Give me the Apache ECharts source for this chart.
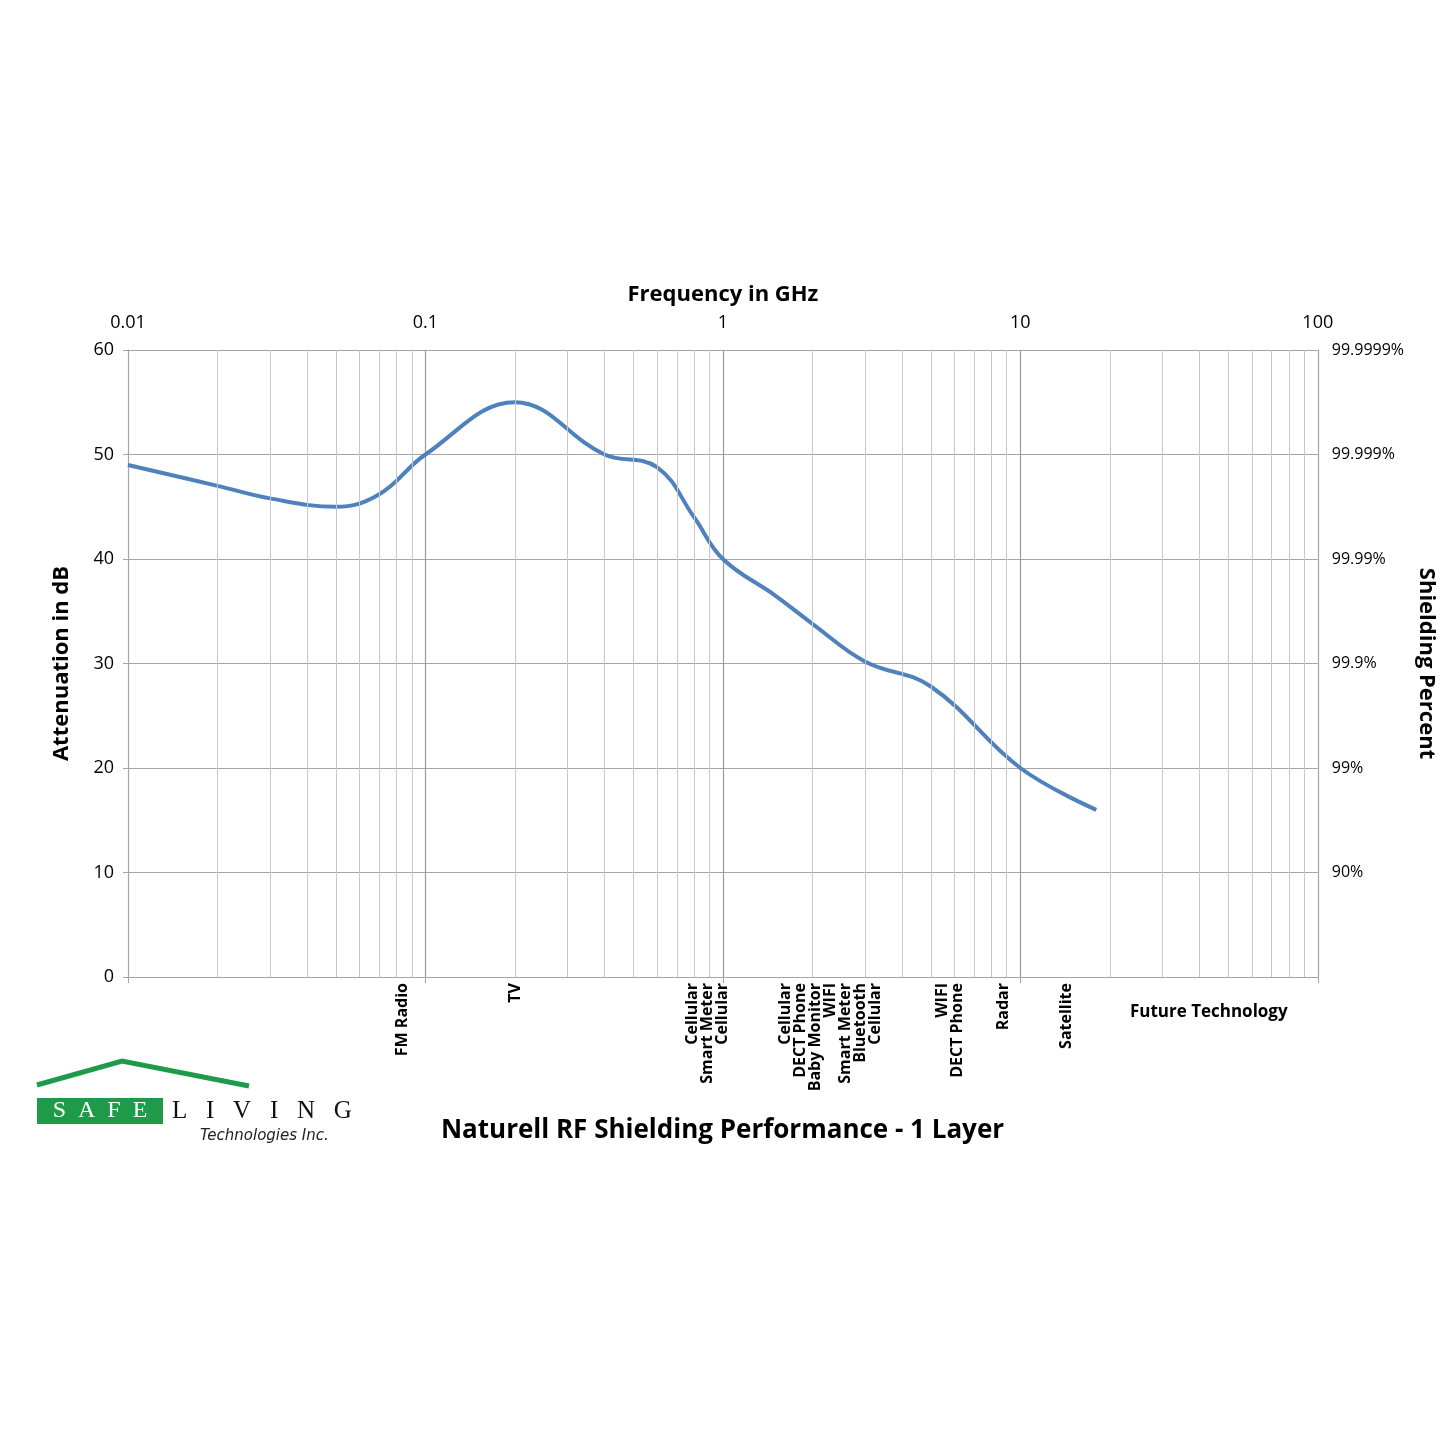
<!DOCTYPE html>
<html>
<head>
<meta charset="utf-8">
<script src="https://cdn.jsdelivr.net/npm/echarts@6/dist/echarts.min.js"></script>
<style>html,body{margin:0;padding:0;background:#fff}#main{width:1445px;height:1445px}</style>
</head>
<body>
<div id="main"></div>
<script>
// attenuation curve
const freqs = [0.01, 0.02, 0.03, 0.05, 0.07, 0.1, 0.2, 0.4, 0.6, 0.8, 1, 1.5, 2, 3, 5, 10, 18];
const dbValues = [49, 47, 45.8, 45, 46.2, 50, 55, 50, 48.8, 44, 40, 36.5, 33.8, 30.2, 27.8, 20, 16];

const pctLabels = {0: '', 10: '90%', 20: '99%', 30: '99.9%', 40: '99.99%', 50: '99.999%', 60: '99.9999%'};

// application labels under the axis
const appFreqs = [0.0836, 0.2, 0.89, 2.3, 5.8, 8.8, 14.3];
const appNames = [
    'FM Radio',
    'TV',
    'Cellular\nSmart Meter\nCellular',
    'Cellular\nDECT Phone\nBaby Monitor\nWIFI\nSmart Meter\nBluetooth\nCellular',
    'WIFI\nDECT Phone',
    'Radar',
    'Satellite'
];

const minorFreqs = [];
[0.01, 0.1, 1, 10].forEach(d => {
    for (let k = 2; k <= 9; k++) minorFreqs.push(+(d * k).toPrecision(3));
});

const chart = echarts.init(document.getElementById('main'));
const gridColor = '#a6a6a6';
const font = 'Open Sans';

chart.setOption({
    animation: false,
    textStyle: {fontFamily: font},
    grid: {left: 128, right: 124, top: 350, bottom: 468},
    xAxis: [
        {
            type: 'log', min: 0.01, max: 100, logBase: 10, position: 'bottom',
            axisLine: {lineStyle: {color: gridColor}},
            axisTick: {show: true, length: 6, lineStyle: {color: gridColor}},
            axisLabel: {show: false},
            splitLine: {show: true, lineStyle: {color: '#999', width: 1.2}}
        },
        {
            type: 'log', min: 0.01, max: 100, logBase: 10, position: 'top',
            name: 'Frequency in GHz', nameLocation: 'middle', nameGap: 44,
            nameTextStyle: {fontSize: 22, fontWeight: 'bold', color: '#000'},
            axisLine: {lineStyle: {color: gridColor}},
            axisTick: {show: false},
            axisLabel: {fontSize: 18, color: '#000', margin: 18,
                formatter: v => String(+v.toPrecision(3))},
            splitLine: {show: false}
        }
    ],
    yAxis: [
        {
            type: 'value', min: 0, max: 60, interval: 10,
            name: 'Attenuation in dB', nameLocation: 'middle', nameGap: 55,
            nameTextStyle: {fontSize: 22, fontWeight: 'bold', color: '#000'},
            axisLine: {show: true, lineStyle: {color: gridColor}},
            axisTick: {show: true, lineStyle: {color: gridColor}},
            axisLabel: {fontSize: 18, color: '#000', margin: 14},
            splitLine: {lineStyle: {color: gridColor, width: 1.2}}
        },
        {
            type: 'value', min: 0, max: 60, interval: 10, position: 'right',
            name: 'Shielding Percent', nameLocation: 'middle', nameGap: 88, nameRotate: -90,
            nameTextStyle: {fontSize: 22, fontWeight: 'bold', color: '#000'},
            axisLine: {show: true, lineStyle: {color: gridColor}},
            axisTick: {show: false},
            axisLabel: {fontSize: 16, color: '#000', margin: 14, formatter: v => pctLabels[v]},
            splitLine: {show: false}
        }
    ],
    series: [
        {
            type: 'line', xAxisIndex: 0, yAxisIndex: 0,
            data: [],
            markLine: {
                silent: true, symbol: 'none', label: {show: false},
                lineStyle: {color: '#c8c8c8', width: 1, type: 'solid'},
                data: minorFreqs.map(f => ({xAxis: f}))
            }
        },
        {
            type: 'line', xAxisIndex: 0, yAxisIndex: 0,
            smooth: 0.4, showSymbol: false,
            lineStyle: {color: '#4f81bd', width: 4},
            data: freqs.map((f, i) => [f, dbValues[i]])
        }
    ]
});

const graphics = appFreqs.map((f, i) => {
    const p = chart.convertToPixel({xAxisIndex: 0, yAxisIndex: 0}, [f, 0]);
    return {
        type: 'text', x: p[0], y: p[1] + 6, rotation: Math.PI / 2,
        style: {text: appNames[i], fill: '#000', fontSize: 16, fontWeight: 'bold',
            fontFamily: font, align: 'right', verticalAlign: 'middle', lineHeight: 15}
    };
});
const fut = chart.convertToPixel({xAxisIndex: 0, yAxisIndex: 0}, [43, 0]);
graphics.push(
    {type: 'text', x: fut[0], y: fut[1] + 35,
        style: {text: 'Future Technology', fill: '#000', fontSize: 17, fontWeight: 'bold',
            fontFamily: font, align: 'center', verticalAlign: 'middle'}},
    {type: 'text', left: 'center', top: 1118,
        style: {text: 'Naturell RF Shielding Performance - 1 Layer', fill: '#000', fontSize: 26,
            fontWeight: 'bold', fontFamily: font}},
    // logo
    {type: 'polyline', shape: {points: [[37, 1085], [122, 1061], [249, 1086]]},
        style: {stroke: '#1f9a48', lineWidth: 5, fill: null}},
    {type: 'rect', shape: {x: 37, y: 1098, width: 126, height: 26}, style: {fill: '#1f9a48'}},
    {type: 'text', x: 100, y: 1111,
        style: {text: 'S  A  F  E', fill: '#fff', fontSize: 24, fontFamily: 'Liberation Serif',
            align: 'center', verticalAlign: 'middle'}},
    {type: 'text', x: 172, y: 1111,
        style: {text: 'L   I   V   I   N   G', fill: '#111', fontSize: 25, fontFamily: 'Liberation Serif',
            align: 'left', verticalAlign: 'middle'}},
    {type: 'text', x: 200, y: 1136,
        style: {text: 'Technologies Inc.', fill: '#222', fontSize: 15, fontStyle: 'italic',
            fontFamily: 'DejaVu Sans', align: 'left', verticalAlign: 'middle'}}
);
chart.setOption({graphic: graphics});
</script>
</body>
</html>
